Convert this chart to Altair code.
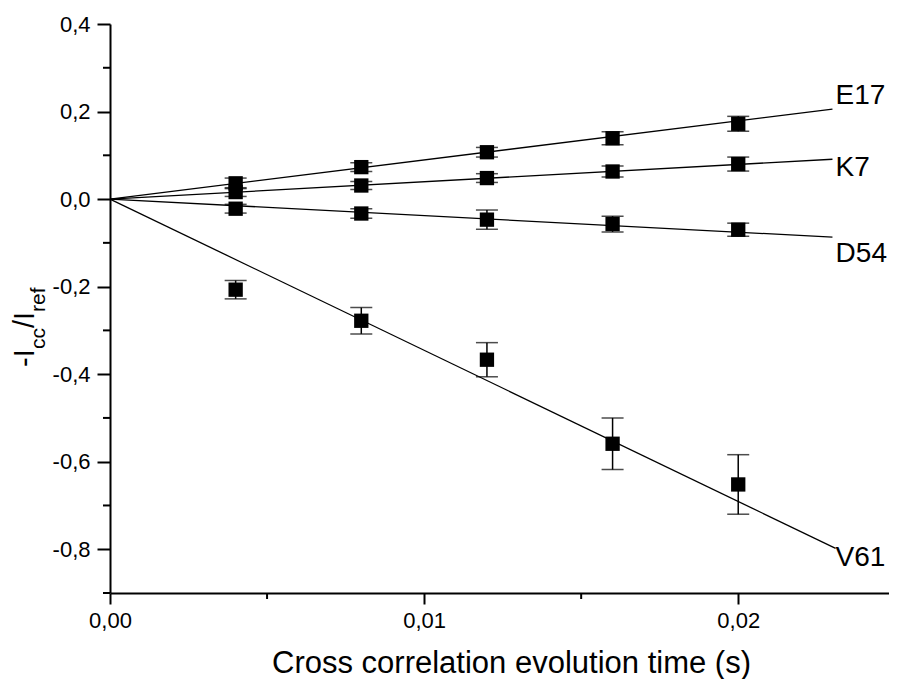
import altair as alt
import pandas as pd

FONT = "Liberation Sans"

# ---------------- data ----------------
x_vals = [0.004, 0.008, 0.012, 0.016, 0.020]
series = ["E17", "K7", "D54", "V61"]
y_E17 = [0.036, 0.073, 0.107, 0.139, 0.172]
e_E17 = [0.012, 0.010, 0.011, 0.015, 0.017]
y_K7 = [0.016, 0.031, 0.048, 0.063, 0.080]
e_K7 = [0.010, 0.009, 0.010, 0.0125, 0.016]
y_D54 = [-0.022, -0.033, -0.047, -0.057, -0.070]
e_D54 = [0.010, 0.011, 0.022, 0.018, 0.015]
y_V61 = [-0.207, -0.278, -0.367, -0.559, -0.652]
e_V61 = [0.021, 0.030, 0.039, 0.059, 0.068]

# fitted lines: start at origin, end points
line_start_x = [0.0, 0.0, 0.0, 0.0]
line_start_y = [0.0, 0.0, 0.0, 0.0]
line_end_x = [0.0230, 0.0230, 0.0230, 0.0231]
line_end_y = [0.2055, 0.091, -0.087, -0.798]

# series labels (baseline positions)
label_x = [0.0231, 0.0231, 0.0231, 0.0231]
label_y = [0.2166, 0.0525, -0.1437, -0.839]

y_major = [0.4, 0.2, 0.0, -0.2, -0.4, -0.6, -0.8]
y_minor = [0.3, 0.1, -0.1, -0.3, -0.5, -0.7, -0.9]
x_major = [0.0, 0.01, 0.02]
x_minor = [0.005, 0.015]

x_title = "Cross correlation evolution time (s)"

# ---------------- tables ----------------
ys = {"E17": y_E17, "K7": y_K7, "D54": y_D54, "V61": y_V61}
es = {"E17": e_E17, "K7": e_K7, "D54": e_D54, "V61": e_V61}
rows = []
for s in series:
    for xv, yv, ev in zip(x_vals, ys[s], es[s]):
        rows.append({"s": s, "x": xv, "y": yv, "lo": yv - ev, "hi": yv + ev})
pts = pd.DataFrame(rows)

lrows = []
for i, s in enumerate(series):
    lrows.append({"s": s, "x": line_start_x[i], "y": line_start_y[i], "o": 0})
    lrows.append({"s": s, "x": line_end_x[i], "y": line_end_y[i], "o": 1})
lines_df = pd.DataFrame(lrows)

labels_df = pd.DataFrame({"s": series, "x": label_x, "y": label_y})

W, H = 779, 569

xscale = alt.Scale(domain=[0, 0.0248], nice=False, zero=False)
yscale = alt.Scale(domain=[-0.9, 0.4], nice=False, zero=False)

xaxis = alt.Axis(
    values=x_major, title=x_title, grid=False,
    labelExpr="replace(replace(format(datum.value, '.2f'), '.', ','), '\u2212', '-')",
    labelFont=FONT, labelFontSize=22, labelColor="black", labelPadding=6,
    tickSize=11, tickWidth=2, tickColor="black",
    domainColor="black", domainWidth=2,
    titleFont=FONT, titleFontSize=31, titleFontWeight="normal", titleColor="black",
    titleX=401, titleY=79, titleBaseline="alphabetic", titleAlign="center",
    labelFlush=False,
)
yaxis = alt.Axis(
    values=y_major, title=None, grid=False,
    labelExpr="replace(replace(format(datum.value, '.1f'), '.', ','), '\u2212', '-')",
    labelFont=FONT, labelFontSize=22, labelColor="black", labelPadding=7,
    tickSize=13, tickWidth=2, tickColor="black",
    domainColor="black", domainWidth=2, labelFlush=False,
)


def X(f):
    return alt.X(f, type="quantitative", scale=xscale, axis=xaxis)


def Y(f):
    return alt.Y(f, type="quantitative", scale=yscale, axis=yaxis)


lines = alt.Chart(lines_df).mark_line(color="black", strokeWidth=1.3).encode(
    x=X("x"), y=Y("y"), detail="s:N", order="o:Q"
)
err = alt.Chart(pts).mark_rule(color="black", strokeWidth=1.5).encode(
    x=X("x"), y=Y("lo"), y2="hi"
)
cap_lo = alt.Chart(pts).mark_tick(color="black", orient="horizontal", size=22, thickness=1.5).encode(
    x=X("x"), y=Y("lo")
)
cap_hi = alt.Chart(pts).mark_tick(color="black", orient="horizontal", size=22, thickness=1.5).encode(
    x=X("x"), y=Y("hi")
)
squares = alt.Chart(pts).mark_square(color="black", size=205, opacity=1, filled=True).encode(
    x=X("x"), y=Y("y")
)
labels = alt.Chart(labels_df).mark_text(
    font=FONT, fontSize=28, color="black", align="left", baseline="alphabetic"
).encode(x=X("x"), y=Y("y"), text="s:N")

ymin_df = pd.DataFrame({"v": y_minor})
ymin = alt.Chart(ymin_df).mark_rule(color="black", strokeWidth=2).encode(
    y=Y("v"), x=alt.value(0), x2=alt.value(-7)
)
xmin_df = pd.DataFrame({"v": x_minor})
xmin = alt.Chart(xmin_df).mark_rule(color="black", strokeWidth=2).encode(
    x=X("v"), y=alt.value(H), y2=alt.value(H + 6)
)

# y-axis title with subscripts: -I_cc / I_ref (rotated)
def ttl(txt, fs, px, py):
    return alt.Chart(pd.DataFrame({"t": [txt]})).mark_text(
        font=FONT, fontSize=fs, color="black", angle=270,
        align="left", baseline="alphabetic"
    ).encode(text="t:N", x=alt.value(px), y=alt.value(py))


t1 = ttl("-I", 29, -76, 343)
t2 = ttl("cc", 21, -65, 325)
t3 = ttl("/I", 29, -76, 304)
t4 = ttl("ref", 21, -65, 288)

chart = alt.layer(
    lines, err, cap_lo, cap_hi, squares, labels, ymin, xmin, t1, t2, t3, t4
).properties(
    width=W, height=H,
    autosize=alt.AutoSizeParams(type="none"),
    padding={"left": 102, "top": 16, "right": 0, "bottom": 86},
    background="white",
).configure_view(stroke=None)

chart.save("out.html", embed_options={"renderer": "svg", "actions": False})
